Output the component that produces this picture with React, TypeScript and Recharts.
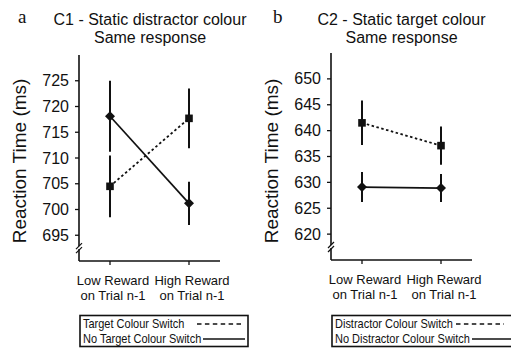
import { LineChart, Line, XAxis, YAxis, ErrorBar } from "recharts"

const categories = ["Low Reward on Trial n-1", "High Reward on Trial n-1"]

// panel a - C1, static distractor colour
const aSwitch = [704.5, 717.7]
const aSwitchErr = [6, 5.8]
const aNoSwitch = [718.1, 701.2]
const aNoSwitchErr = [6.9, 4.2]
const aTicks = [695, 700, 705, 710, 715, 720, 725]
const aDomain = [690, 730]
const aBreak = 692.5
const aNames = ["Target Colour Switch", "No Target Colour Switch"]

// panel b - C2, static target colour
const bSwitch = [641.5, 637.1]
const bSwitchErr = [4.3, 3.7]
const bNoSwitch = [629.1, 628.9]
const bNoSwitchErr = [2.9, 2.7]
const bTicks = [620, 625, 630, 635, 640, 645, 650]
const bDomain = [615, 655]
const bBreak = 617.5
const bNames = ["Distractor Colour Switch", "No Distractor Colour Switch"]

const INK = "#111"
const SANS = "'Liberation Sans', Arial, sans-serif"
const SERIF = "'Liberation Serif', 'Times New Roman', serif"
const TICK_SIZE = 4
const TICK_MARGIN = 6

const buildRows = (sw: number[], swErr: number[], no: number[], noErr: number[]) =>
  categories.map((cat, i) => ({ cat, sw: sw[i], swErr: swErr[i], no: no[i], noErr: noErr[i] }))

const Square = (props: any) => {
  const { cx, cy, index } = props
  if (cx == null || cy == null) return null
  return <rect key={`sq-${index}`} x={cx - 3.8} y={cy - 3.8} width={7.6} height={7.6} fill={INK} />
}

const Diamond = (props: any) => {
  const { cx, cy, index } = props
  if (cx == null || cy == null) return null
  const r = 5
  return (
    <polygon
      key={`dm-${index}`}
      points={`${cx},${cy - r} ${cx + r},${cy} ${cx},${cy + r} ${cx - r},${cy}`}
      fill={INK}
    />
  )
}

const makeYTick = (breakValue: number) => (props: any) => {
  const { x, y, payload } = props
  const axisX = x + TICK_MARGIN + TICK_SIZE
  if (payload.value === breakValue) {
    return (
      <g>
        <rect x={axisX - 2} y={y - 2} width={4} height={3} fill="#fff" />
        <line x1={axisX - 3} y1={y + 1} x2={axisX + 3} y2={y - 5} stroke={INK} strokeWidth={1.3} />
        <line x1={axisX - 3} y1={y + 5} x2={axisX + 3} y2={y - 1} stroke={INK} strokeWidth={1.3} />
      </g>
    )
  }
  return (
    <g>
      <line x1={axisX - TICK_SIZE} y1={y} x2={axisX} y2={y} stroke={INK} strokeWidth={1.3} />
      <text x={x} y={y + 5.5} textAnchor="end" fontSize={16} fontFamily={SANS} fill={INK}>
        {payload.value}
      </text>
    </g>
  )
}

const XTick = (props: any) => {
  const { x, y, payload } = props
  const [first, rest] = String(payload.value).split(" on ")
  return (
    <text x={x + 3} y={y} textAnchor="middle" fontSize={13} fontFamily={SANS} fill={INK}>
      <tspan x={x + 3} dy={16}>{first}</tspan>
      <tspan x={x + 3} dy={15}>{"on " + rest}</tspan>
    </text>
  )
}

interface PanelProps {
  rows: any[]
  domain: number[]
  ticks: number[]
  breakValue: number
  left: number
  margin: { top: number; right: number; left: number; bottom: number }
}

function Panel({ rows, domain, ticks, breakValue, left, margin }: PanelProps) {
  const axisStyle = { stroke: INK, strokeWidth: 1.6 }
  return (
    <div style={{ position: "absolute", left, top: 0 }}>
      <LineChart width={255} height={305} data={rows} margin={margin}>
        <XAxis
          dataKey="cat"
          scale="point"
          padding={{ left: 31, right: 31 }}
          height={44}
          axisLine={axisStyle}
          tickLine={{ stroke: INK, strokeWidth: 1.3 }}
          tickSize={TICK_SIZE}
          tickMargin={4}
          tick={<XTick />}
          interval={0}
        />
        <XAxis xAxisId="top" dataKey="cat" orientation="top" height={0} axisLine={axisStyle} tick={false} tickLine={false} />
        <YAxis
          type="number"
          domain={domain}
          ticks={[breakValue, ...ticks]}
          interval={0}
          width={60}
          axisLine={axisStyle}
          tickLine={false}
          tickSize={TICK_SIZE}
          tickMargin={TICK_MARGIN}
          tick={makeYTick(breakValue)}
        />
        <YAxis yAxisId="r" orientation="right" type="number" domain={[0, 1]} width={0} axisLine={axisStyle} tick={false} tickLine={false} />
        <Line
          dataKey="no"
          stroke={INK}
          strokeWidth={1.7}
          dot={Diamond}
          activeDot={false}
          isAnimationActive={false}
        >
          <ErrorBar dataKey="noErr" width={0} stroke={INK} strokeWidth={2} direction="y" />
        </Line>
        <Line
          dataKey="sw"
          stroke={INK}
          strokeWidth={1.8}
          strokeDasharray="2.5 2.5"
          dot={Square}
          activeDot={false}
          isAnimationActive={false}
        >
          <ErrorBar dataKey="swErr" width={0} stroke={INK} strokeWidth={2} direction="y" />
        </Line>
      </LineChart>
    </div>
  )
}

// legend text is set in a narrow face in the original, so squeeze it a little
function LegendBox({ x, width, names, textX, dash, solid }: any) {
  return (
    <g>
      <rect x={x} y={315.5} width={width} height={31} fill="#fff" stroke={INK} strokeWidth={1.6} />
      <g transform={`translate(${textX} 0) scale(0.815 1)`} fontFamily={SANS} fontSize={13.5} fill={INK}>
        <text x={0} y={328.5}>{names[0]}</text>
        <text x={0} y={343.5}>{names[1]}</text>
      </g>
      <line x1={dash[0]} x2={dash[1]} y1={324} y2={324} stroke={INK} strokeWidth={1.4} strokeDasharray="4.5 3.4" />
      <line x1={solid[0]} x2={solid[1]} y1={339} y2={339} stroke={INK} strokeWidth={1.6} />
    </g>
  )
}

export default function App() {
  const aRows = buildRows(aSwitch, aSwitchErr, aNoSwitch, aNoSwitchErr)
  const bRows = buildRows(bSwitch, bSwitchErr, bNoSwitch, bNoSwitchErr)
  return (
    <div style={{ position: "absolute", left: 0, top: 0, width: 511, height: 350, background: "#fff", overflow: "hidden" }}>
      <Panel rows={aRows} domain={aDomain} ticks={aTicks} breakValue={aBreak} left={0} margin={{ top: 55, right: 35, left: 19, bottom: 0 }} />
      <Panel rows={bRows} domain={bDomain} ticks={bTicks} breakValue={bBreak} left={255} margin={{ top: 53, right: 38, left: 16, bottom: 1 }} />
      <svg width={511} height={350} style={{ position: "absolute", left: 0, top: 0, pointerEvents: "none" }}>
        <text x={18} y={23} fontFamily={SERIF} fontSize={19} fill={INK}>a</text>
        <text x={273} y={23} fontFamily={SERIF} fontSize={19} fill={INK}>b</text>
        <g fontFamily={SANS} fontSize={16} fill={INK} textAnchor="middle">
          <text x={150} y={24.5}>C1 - Static distractor colour</text>
          <text x={150} y={42.5}>Same response</text>
          <text x={401.5} y={24.5}>C2 - Static target colour</text>
          <text x={401.5} y={42.5}>Same response</text>
        </g>
        <g fontFamily={SANS} fontSize={19} fill={INK} textAnchor="middle">
          <text x={0} y={0} transform="translate(26, 161) rotate(-90)">
            Reaction Time (ms)
          </text>
          <text x={0} y={0} transform="translate(278, 161) rotate(-90)">
            Reaction Time (ms)
          </text>
        </g>
        <LegendBox x={80} width={168} names={aNames} textX={83} dash={[197, 244]} solid={[203, 245]} />
        <LegendBox x={332} width={190} names={bNames} textX={335} dash={[456, 504]} solid={[472, 511]} />
      </svg>
    </div>
  )
}
